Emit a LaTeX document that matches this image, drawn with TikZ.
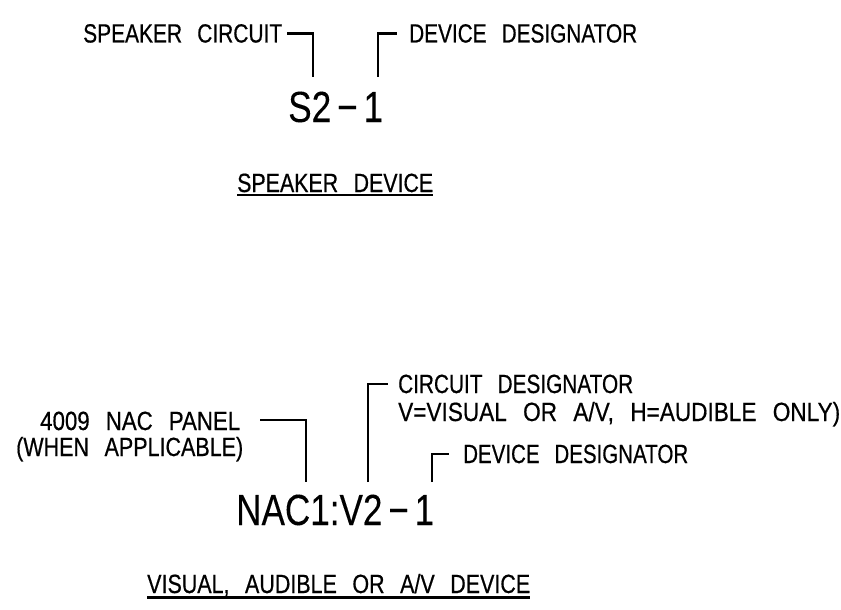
\documentclass[tikz,border=0pt]{standalone}
\usepackage{fontspec}
\setmainfont{Liberation Sans}[WordSpace=2.6, FakeBold=0.6]
\newfontfamily\bigfont{Liberation Sans}[WordSpace=2.6, FakeBold=0.15]
\usepackage{graphicx}
\newcommand\fitt[2]{\resizebox{#1}{\height}{#2}}
\tikzset{
  lbl/.style={inner sep=0pt, anchor=base west, font=\fontsize{26.3}{26.3}\selectfont},
  big/.style={inner sep=0pt, anchor=base west, font=\bigfont\fontsize{43.6}{43.6}\selectfont},
  lead/.style={line width=2.5pt, line cap=butt, line join=miter},
  uline/.style={line width=2.2pt}
}
\begin{document}
\begin{tikzpicture}[x=1pt,y=-1pt]
\useasboundingbox (0,0) rectangle (841,610);
% ---- speaker device ----
\node[lbl] (sc) at (83,42.5) {\fitt{199pt}{SPEAKER CIRCUIT}};
\node[lbl] (dd) at (409,42.5) {\fitt{228pt}{DEVICE DESIGNATOR}};
\node[big] (s21) at (288,122) {\fitt{95pt}{S2\,−\,1}};
\node[lbl] (sd) at (237,192) {\fitt{196pt}{SPEAKER DEVICE}};
\coordinate (sc1) at (313,77);
\coordinate (dd1) at (378,77);
\draw[lead] ([xshift=5pt]sc.east) -| (sc1);
\draw[lead] (dd1) |- ([xshift=-12pt]dd.west);
\draw[uline] ([yshift=-3pt]sd.base west) -- ([yshift=-3pt]sd.base east);
% ---- visual / audible device ----
\node[lbl] (np) at (40,430) {\fitt{200pt}{4009 NAC PANEL}};
\node[lbl] (wa) at (16,456) {\fitt{227pt}{(WHEN APPLICABLE)}};
\node[lbl] (cd) at (398,393) {\fitt{235pt}{CIRCUIT DESIGNATOR}};
\node[lbl] (vv) at (398,421) {\fitt{442pt}{V=VISUAL OR A/V, H=AUDIBLE ONLY)}};
\node[lbl] (db) at (463,463) {\fitt{225pt}{DEVICE DESIGNATOR}};
\node[big] (nac) at (236,525) {\fitt{198pt}{NAC1:V2\,−\,1}};
\node[lbl] (vd) at (147,593) {\fitt{383pt}{VISUAL, AUDIBLE OR A/V DEVICE}};
\coordinate (np1) at (306,482);
\coordinate (cd1) at (368,482);
\coordinate (db1) at (432,482);
\draw[lead] ([xshift=20pt,yshift=1pt]np.east) -| (np1);
\draw[lead] (cd1) |- ([xshift=-10pt]cd.west);
\draw[lead] (db1) |- ([xshift=-14pt]db.west);
\draw[uline] ([yshift=-4.5pt]vd.base west) -- ([yshift=-4.5pt]vd.base east);
\end{tikzpicture}
\end{document}
